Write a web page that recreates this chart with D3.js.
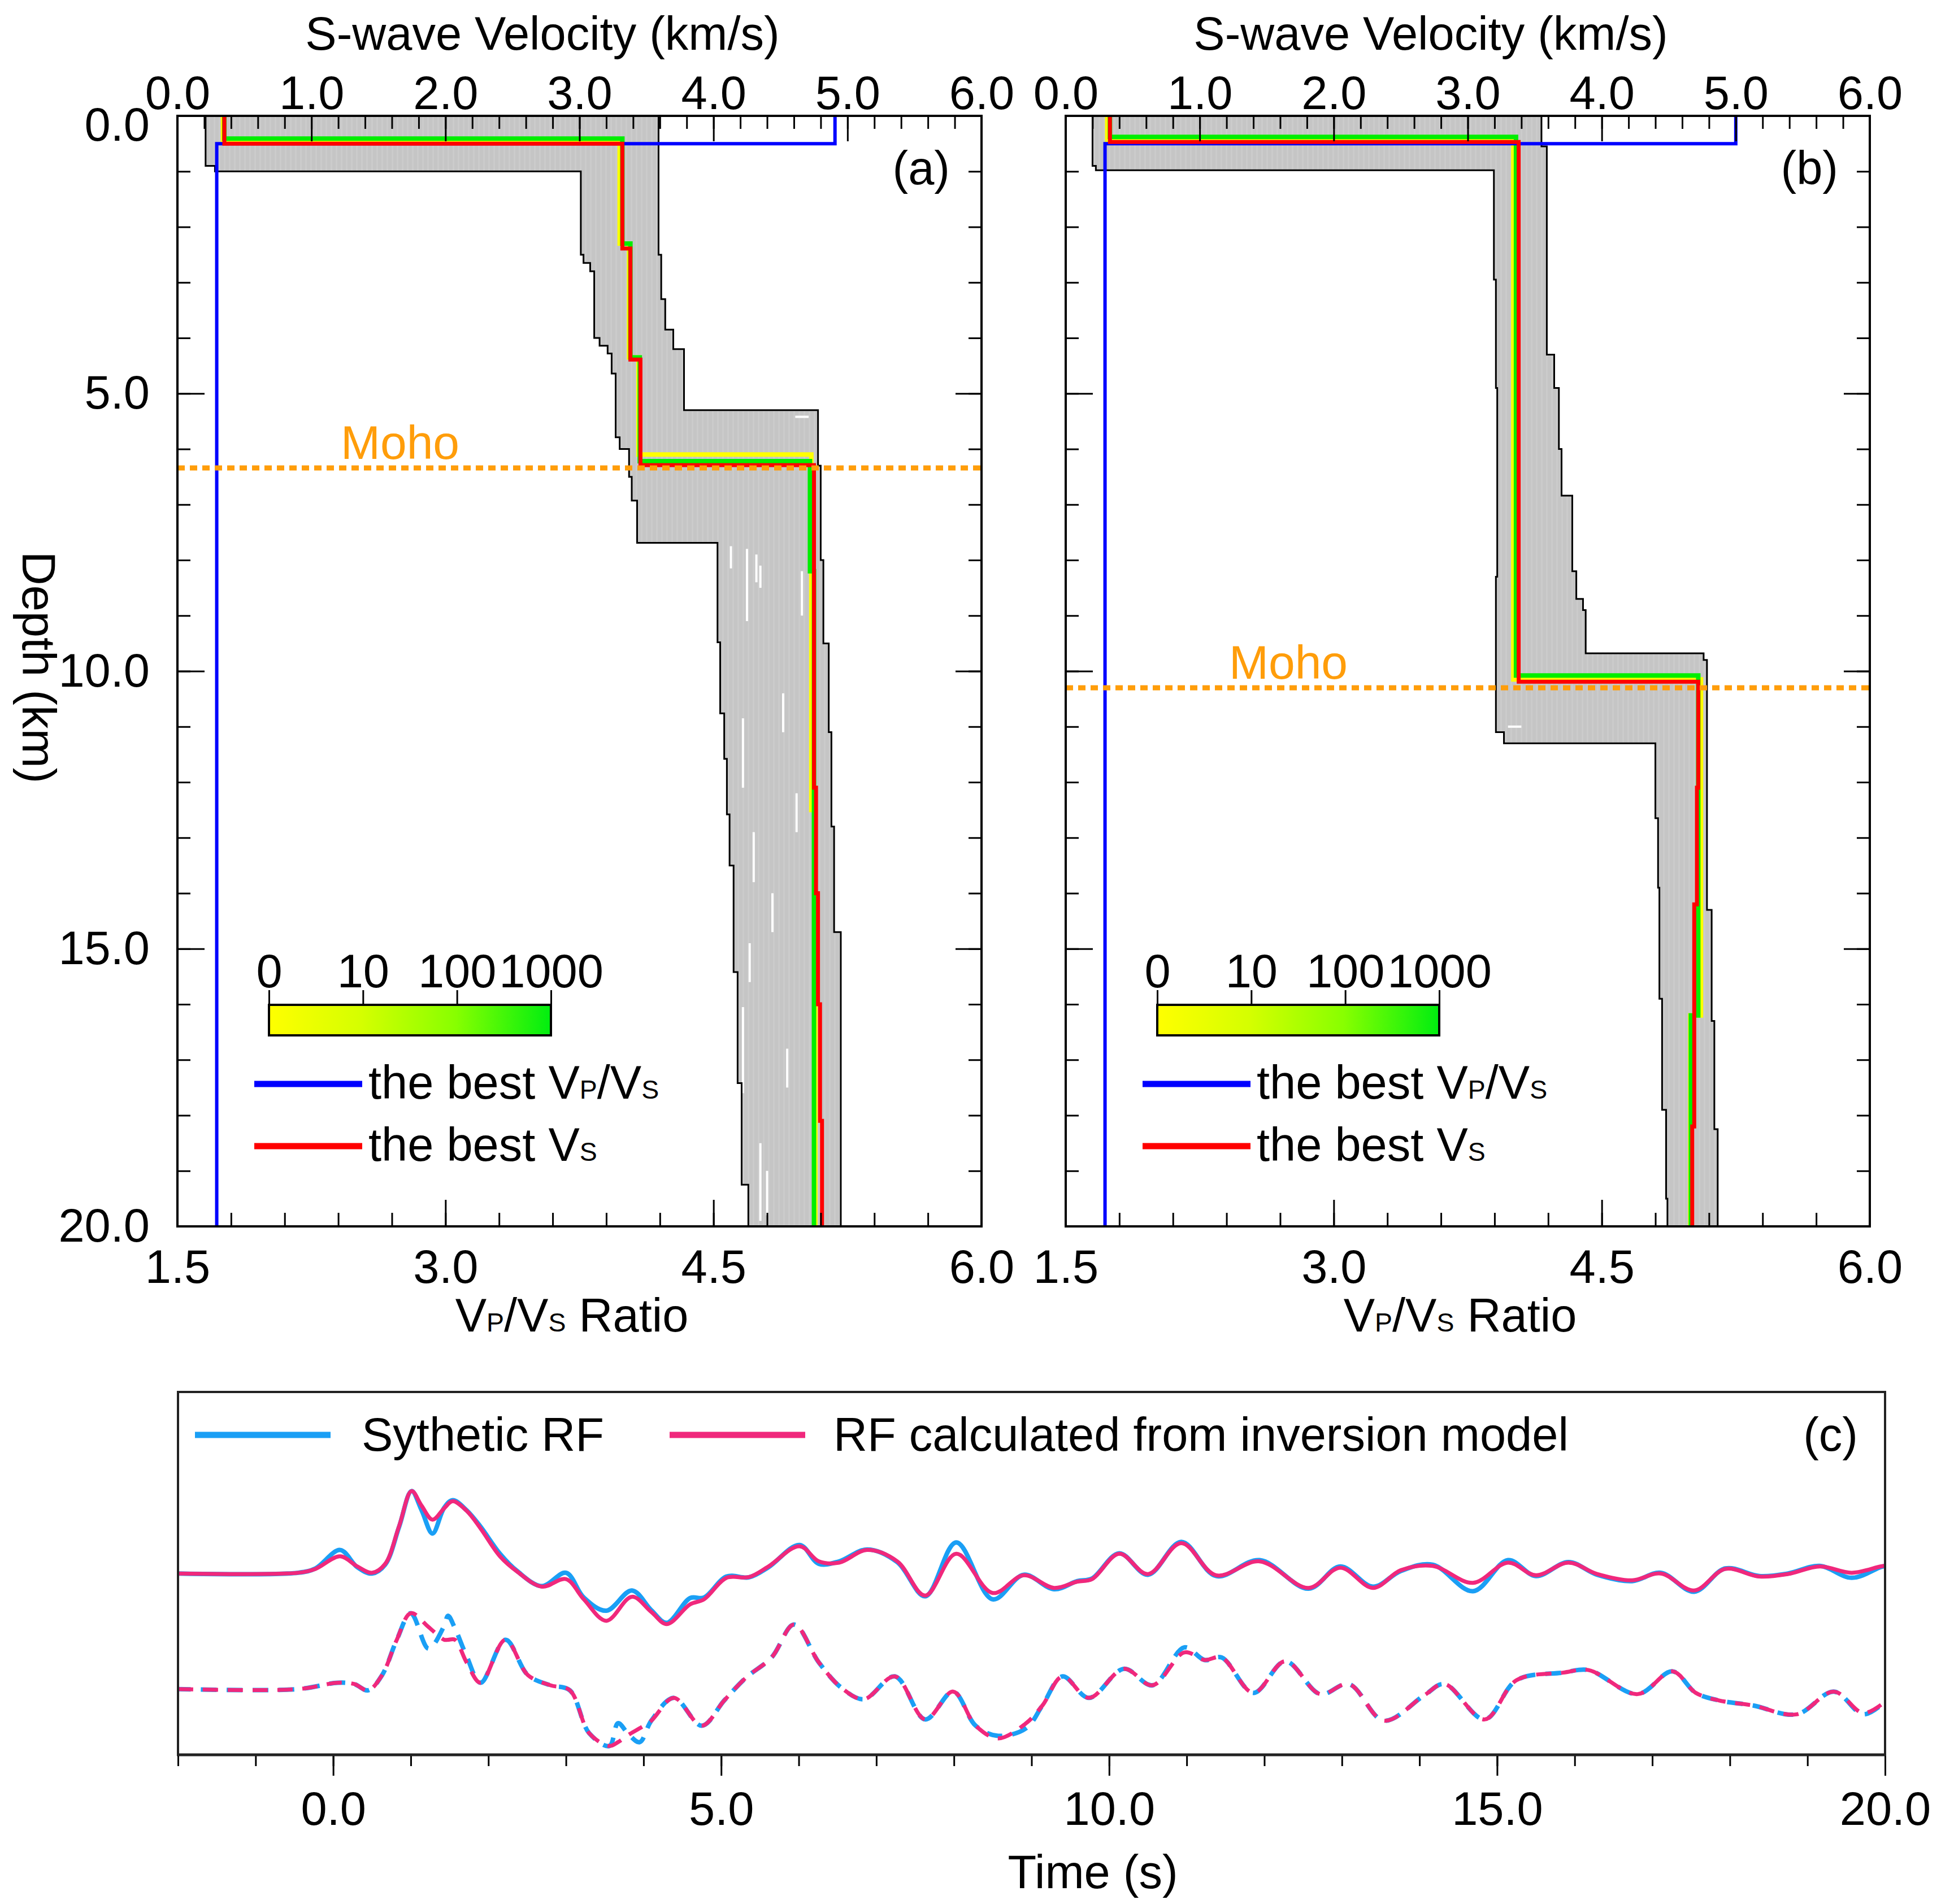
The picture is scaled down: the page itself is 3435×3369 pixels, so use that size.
<!DOCTYPE html>
<html>
<head>
<meta charset="utf-8">
<script src="https://cdn.jsdelivr.net/npm/d3@7"></script>
<style>
  body { margin: 0; background: #fff; }
</style>
</head>
<body>
<div id="chart"></div>
<script>
// DATA
// axis ticks
const velTicks = [0, 1, 2, 3, 4, 5, 6];
const ratioTicks = [1.5, 3.0, 4.5, 6.0];
const depthTicks = [0, 5, 10, 15, 20];
const timeTicks = [0, 5, 10, 15, 20];
const cbLabels = ['0', '10', '100', '1000'];

// panel (a): layer top depths (km) and values, each layer runs to the next depth (last to 20 km)
const aEnvLeftDepth = [0, 0.9, 1.0, 2.5, 2.65, 2.8, 4.0, 4.14, 4.28, 4.64, 5.79, 6.0, 6.5, 6.93, 7.69, 9.48, 10.76, 11.58, 12.58, 13.5, 15.42, 17.42, 19.25];
const aEnvLeftVs = [0.21, 0.28, 3.01, 3.03, 3.08, 3.11, 3.15, 3.21, 3.24, 3.27, 3.30, 3.37, 3.39, 3.43, 4.03, 4.05, 4.08, 4.10, 4.12, 4.15, 4.18, 4.21, 4.26];
const aEnvRightDepth = [0, 2.5, 3.3, 3.85, 4.2, 5.3, 6.3, 8.0, 9.5, 11.1, 12.8, 14.7];
const aEnvRightVs = [3.59, 3.61, 3.64, 3.70, 3.78, 4.78, 4.80, 4.82, 4.86, 4.88, 4.90, 4.95];
const aYellowDepth = [0, 0.45, 2.3, 4.35, 6.1, 12.5];
const aYellowVs = [0.34, 3.30, 3.37, 3.44, 4.73, 4.76];
const aGreenDepth = [0, 0.41, 2.3, 4.35, 6.22, 8.2];
const aGreenVs = [0.35, 3.32, 3.38, 3.45, 4.72, 4.75];
const aBestVsDepth = [0, 0.5, 2.39, 4.39, 6.29, 12.1, 14.0, 16.0, 18.1];
const aBestVs = [0.35, 3.32, 3.38, 3.455, 4.75, 4.765, 4.78, 4.795, 4.81];
const aBestRatioDepth = [0, 0.5];
const aBestRatio = [5.18, 1.72];
const aMoho = 6.34;
// white gaps in the model cloud: [vs from, vs to, depth from, depth to]
const aGaps = [
  [4.13, 4.13, 7.75, 8.15], [4.25, 4.25, 7.8, 9.1], [4.32, 4.32, 7.9, 8.4], [4.35, 4.35, 8.1, 8.5],
  [4.22, 4.22, 10.85, 12.1], [4.52, 4.52, 10.4, 11.1], [4.44, 4.44, 14.0, 14.7], [4.22, 4.22, 16.05, 17.6],
  [4.35, 4.35, 18.5, 19.9], [4.66, 4.66, 8.2, 9.0], [4.61, 4.71, 5.42, 5.42], [4.30, 4.30, 12.9, 13.8],
  [4.55, 4.55, 16.8, 17.5], [4.40, 4.40, 19.0, 19.8], [4.27, 4.27, 14.9, 15.6], [4.62, 4.62, 12.2, 12.9]
];

// panel (b)
const bEnvLeftDepth = [0, 0.9, 0.98, 2.95, 4.9, 8.3, 11.1, 11.3, 12.65, 13.9, 15.9, 17.9, 19.5];
const bEnvLeftVs = [0.20, 0.225, 3.195, 3.21, 3.22, 3.21, 3.27, 4.40, 4.42, 4.43, 4.45, 4.48, 4.49];
const bEnvRightDepth = [0, 0.55, 4.3, 4.9, 6.0, 6.84, 8.2, 8.7, 8.9, 9.68, 9.8, 14.3, 16.3, 18.25];
const bEnvRightVs = [3.55, 3.59, 3.645, 3.68, 3.70, 3.78, 3.81, 3.86, 3.88, 4.76, 4.785, 4.82, 4.84, 4.865];
const bYellowDepth = [0, 0.45, 10.15, 16.2];
const bYellowVs = [0.31, 3.34, 4.74, 4.66];
const bGreenDepth = [0, 0.38, 10.08, 16.2];
const bGreenVs = [0.33, 3.36, 4.72, 4.665];
const bBestVsDepth = [0, 0.47, 10.19, 12.1, 14.2, 18.2];
const bBestVs = [0.33, 3.38, 4.72, 4.71, 4.69, 4.675];
const bBestRatioDepth = [0, 0.5];
const bBestRatio = [5.25, 1.72];
const bMoho = 10.3;
const bGaps = [[3.30, 3.40, 11.0, 11.0]];

// panel (c): receiver functions (amplitude, arbitrary units)
const rfSolidTime = [-2.0, -0.45, -0.23, 0.09, 0.31, 0.5, 0.67, 0.85, 1.01, 1.14, 1.28, 1.43, 1.54, 1.72, 1.9, 2.15, 2.37, 2.69, 3.0, 3.23, 3.52, 3.85, 4.1, 4.3, 4.6, 4.78, 5.07, 5.36, 5.61, 6.01, 6.26, 6.52, 6.88, 7.27, 7.63, 8.03, 8.5, 8.9, 9.29, 9.59, 9.78, 10.13, 10.5, 10.93, 11.38, 11.94, 12.57, 12.98, 13.4, 13.76, 14.17, 14.69, 15.14, 15.5, 15.92, 16.29, 16.74, 17.11, 17.54, 17.94, 18.38, 18.75, 19.16, 19.57, 19.94, 20.0];
const rfSolidSyn = [0, 0.03, 0.2, 0.93, 0.25, 0.0, 0.35, 1.85, 3.26, 2.5, 1.58, 2.6, 2.9, 2.5, 1.85, 0.78, 0.1, -0.5, 0.03, -0.95, -1.47, -0.67, -1.45, -1.95, -0.97, -0.95, -0.12, -0.15, 0.25, 1.13, 0.38, 0.48, 0.95, 0.45, -0.9, 1.23, -1.02, -0.05, -0.62, -0.3, -0.2, 0.8, -0.05, 1.25, -0.1, 0.53, -0.6, 0.28, -0.52, 0.1, 0.35, -0.7, 0.53, -0.1, 0.45, -0.05, -0.3, 0.03, -0.72, 0.2, -0.1, 0.0, 0.3, -0.17, 0.25, 0.3];
const rfSolidInv = [0, 0.03, 0.18, 0.68, 0.28, 0.03, 0.38, 1.88, 3.26, 2.68, 2.13, 2.58, 2.86, 2.48, 1.78, 0.68, 0.08, -0.52, -0.22, -1.02, -1.87, -0.92, -1.52, -2.0, -1.22, -1.02, -0.17, -0.14, 0.28, 1.08, 0.48, 0.43, 0.93, 0.48, -0.87, 0.78, -0.77, -0.07, -0.57, -0.32, -0.22, 0.78, -0.02, 1.2, -0.07, 0.48, -0.57, 0.23, -0.57, 0.13, 0.3, -0.37, 0.43, -0.07, 0.43, -0.02, -0.27, 0, -0.67, 0.18, -0.12, -0.02, 0.28, 0.03, 0.28, 0.3];
const rfDashTime = [-2.0, -0.45, 0.06, 0.27, 0.45, 0.63, 0.82, 1.0, 1.23, 1.43, 1.48, 1.57, 1.72, 1.9, 2.22, 2.51, 2.8, 3.05, 3.3, 3.56, 3.67, 3.81, 3.95, 4.1, 4.39, 4.75, 5.04, 5.32, 5.65, 5.94, 6.26, 6.55, 6.84, 7.24, 7.63, 7.99, 8.28, 8.57, 8.93, 9.14, 9.4, 9.74, 10.19, 10.56, 10.97, 11.23, 11.45, 11.86, 12.27, 12.72, 13.09, 13.54, 14.06, 14.32, 14.84, 15.25, 15.85, 16.18, 16.81, 17.26, 17.56, 17.86, 18.3, 18.86, 19.34, 19.72, 20.0];
const rfDashSyn = [0, 0, 0.25, 0.2, -0.05, 0.55, 1.95, 3.0, 1.6, 2.5, 2.9, 2.4, 1.3, 0.25, 1.95, 0.55, 0.15, -0.05, -1.75, -2.25, -1.35, -1.8, -2.1, -1.25, -0.35, -1.45, -0.45, 0.45, 1.25, 2.55, 1.05, 0.05, -0.4, 0.5, -1.2, -0.1, -1.45, -1.85, -1.55, -0.65, 0.5, -0.35, 0.8, 0.15, 1.65, 1.15, 1.25, -0.15, 1.1, -0.2, 0.2, -1.25, -0.25, 0.2, -1.2, 0.35, 0.65, 0.75, -0.2, 0.7, -0.15, -0.45, -0.65, -1.0, -0.1, -1.0, -0.5];
const rfDashInv = [0, 0, 0.25, 0.2, -0.05, 0.55, 1.95, 3.0, 2.45, 1.95, 1.95, 1.95, 1.05, 0.25, 1.95, 0.55, 0.15, -0.05, -1.75, -2.25, -2.1, -1.8, -1.55, -1.25, -0.35, -1.45, -0.45, 0.45, 1.25, 2.55, 1.05, 0.05, -0.4, 0.5, -1.2, -0.1, -1.45, -1.95, -1.35, -0.65, 0.5, -0.35, 0.8, 0.15, 1.45, 1.15, 1.25, -0.15, 1.1, -0.2, 0.2, -1.25, -0.25, 0.2, -1.2, 0.35, 0.65, 0.75, -0.2, 0.7, -0.15, -0.45, -0.65, -1.0, -0.1, -0.95, -0.5];


// LAYOUT
const W = 3435, H = 3369;
const font = '"Liberation Sans", Arial, Helvetica, sans-serif';
const fs = 83;
const plotW = 1423, plotTop = 205, plotBottom = 2170;
const colors = {
  ratio: '#0000ff', vs: '#ff0000', green: '#00ee00', yellow: '#ffff00',
  moho: '#ff9d0a', syn: '#1a9ff5', inv: '#f0287c'
};

const svg = d3.select('#chart')
  .append('svg')
  .attr('width', W)
  .attr('height', H)
  .attr('viewBox', [0, 0, W, H])
  .style('font-family', font);

svg.append('rect').attr('width', W).attr('height', H).attr('fill', '#fff');

const defs = svg.append('defs');
const pat = defs.append('pattern')
  .attr('id', 'models')
  .attr('patternUnits', 'userSpaceOnUse')
  .attr('width', 9).attr('height', 40);
pat.append('rect').attr('width', 9).attr('height', 40).attr('fill', '#c5c5c5');
pat.append('rect').attr('width', 3).attr('height', 40).attr('fill', '#cbcbcb');

const grad = defs.append('linearGradient').attr('id', 'cbar');
[[0, '#ffff00'], [0.33, '#d4ff00'], [0.66, '#88ff00'], [1, '#00ee10']].forEach(([o, c]) => {
  grad.append('stop').attr('offset', o).attr('stop-color', c);
});


// FUNCTIONS
// turn layer tops + values into corner points of a step profile
const steps = (depths, vals, bottom = 20) => depths.flatMap((z, i) => [
  { v: vals[i], z },
  { v: vals[i], z: i < depths.length - 1 ? depths[i + 1] : bottom }
]);

const styleAxis = (g, labelSize = fs) => {
  g.select('.domain').remove();
  g.selectAll('line').attr('stroke', '#000').attr('stroke-width', 3);
  g.selectAll('text')
    .attr('font-size', labelSize)
    .attr('font-family', font)
    .attr('fill', '#000');
};

// text with the small-capital P / S subscripts
const vpvsText = (sel, prefix, sub1, rest, sub2, suffix) => {
  if (prefix) sel.append('tspan').text(prefix);
  sel.append('tspan').text('V');
  sel.append('tspan').attr('font-size', fs * 0.56).text(sub1);
  if (rest) {
    sel.append('tspan').text(rest);
    sel.append('tspan').attr('font-size', fs * 0.56).text(sub2);
  }
  if (suffix) sel.append('tspan').text(suffix);
};

const drawProfilePanel = p => {
  const right = p.left + plotW;
  const x = d3.scaleLinear().domain([0, 6]).range([p.left, right]);
  const xr = d3.scaleLinear().domain([1.5, 6]).range([p.left, right]);
  const y = d3.scaleLinear().domain([0, 20]).range([plotTop, plotBottom]);
  const line = d3.line().x(d => x(d.v)).y(d => y(d.z));
  const lineR = d3.line().x(d => xr(d.v)).y(d => y(d.z));
  const g = svg.append('g');

  // grey cloud of accepted models
  const leftPts = steps(p.envLD, p.envLV);
  const rightPts = steps(p.envRD, p.envRV);
  g.append('path')
    .datum(leftPts.concat(rightPts.slice().reverse()))
    .attr('d', d => line(d) + 'Z')
    .attr('fill', 'url(#models)');

  g.append('g')
    .selectAll('line')
    .data(p.gaps)
    .join('line')
    .attr('x1', d => x(d[0])).attr('x2', d => x(d[1]))
    .attr('y1', d => y(d[2])).attr('y2', d => y(d[3]))
    .attr('stroke', '#fff')
    .attr('stroke-width', 4);

  [leftPts, rightPts].forEach(pts => {
    g.append('path')
      .datum(pts)
      .attr('d', line)
      .attr('fill', 'none')
      .attr('stroke', '#000')
      .attr('stroke-width', 3);
  });

  // frequency-coloured best lines
  [[p.yelD, p.yelV, colors.yellow], [p.grnD, p.grnV, colors.green]].forEach(([dd, vv, c]) => {
    g.append('path')
      .datum(steps(dd, vv))
      .attr('d', line)
      .attr('fill', 'none')
      .attr('stroke', c)
      .attr('stroke-width', 8);
  });

  // best Vp/Vs (bottom axis)
  g.append('path')
    .datum(steps(p.ratioD, p.ratioV))
    .attr('d', lineR)
    .attr('fill', 'none')
    .attr('stroke', colors.ratio)
    .attr('stroke-width', 6);

  // best Vs (top axis)
  g.append('path')
    .datum(steps(p.vsD, p.vsV))
    .attr('d', line)
    .attr('fill', 'none')
    .attr('stroke', colors.vs)
    .attr('stroke-width', 7);

  // Moho
  g.append('line')
    .attr('x1', p.left).attr('x2', right)
    .attr('y1', y(p.moho)).attr('y2', y(p.moho))
    .attr('stroke', colors.moho)
    .attr('stroke-width', 9)
    .attr('stroke-dasharray', '13,9');
  g.append('text')
    .attr('x', p.left + 394)
    .attr('y', y(p.moho) - 16)
    .attr('text-anchor', 'middle')
    .attr('font-size', 84)
    .attr('fill', colors.moho)
    .text('Moho');

  // frame
  g.append('rect')
    .attr('x', p.left).attr('y', plotTop)
    .attr('width', plotW).attr('height', plotBottom - plotTop)
    .attr('fill', 'none')
    .attr('stroke', '#000')
    .attr('stroke-width', 4);

  // top velocity axis
  g.append('g')
    .attr('transform', `translate(0,${plotTop})`)
    .call(d3.axisTop(x).tickValues(d3.range(0, 31).map(i => i * 0.2)).tickSize(-23).tickFormat(''))
    .call(styleAxis);
  g.append('g')
    .attr('transform', `translate(0,${plotTop})`)
    .call(d3.axisTop(x).tickValues(velTicks).tickSize(-45).tickPadding(12).tickFormat(d3.format('.1f')))
    .call(styleAxis);

  // bottom ratio axis
  g.append('g')
    .attr('transform', `translate(0,${plotBottom})`)
    .call(d3.axisBottom(xr).tickValues(d3.range(0, 16).map(i => 1.5 + i * 0.3)).tickSize(-24).tickFormat(''))
    .call(styleAxis);
  g.append('g')
    .attr('transform', `translate(0,${plotBottom})`)
    .call(d3.axisBottom(xr).tickValues(ratioTicks).tickSize(-47).tickPadding(41).tickFormat(d3.format('.1f')))
    .call(styleAxis);

  // depth axes, left and right
  g.append('g')
    .attr('transform', `translate(${p.left},0)`)
    .call(d3.axisLeft(y).tickValues(d3.range(0, 21)).tickSize(-23).tickFormat(''))
    .call(styleAxis);
  g.append('g')
    .attr('transform', `translate(${p.left},0)`)
    .call(d3.axisLeft(y).tickValues(depthTicks).tickSize(-48).tickPadding(49)
      .tickFormat(p.depthLabels ? d3.format('.1f') : ''))
    .call(styleAxis)
    .call(a => a.selectAll('text').filter(d => d === 0).attr('dy', '0.52em'));
  g.append('g')
    .attr('transform', `translate(${right},0)`)
    .call(d3.axisRight(y).tickValues(d3.range(0, 21)).tickSize(-23).tickFormat(''))
    .call(styleAxis);
  g.append('g')
    .attr('transform', `translate(${right},0)`)
    .call(d3.axisRight(y).tickValues(depthTicks).tickSize(-46).tickFormat(''))
    .call(styleAxis);

  // axis titles
  g.append('text')
    .attr('x', p.left + 646).attr('y', 88)
    .attr('text-anchor', 'middle')
    .attr('font-size', fs)
    .text('S-wave Velocity (km/s)');
  g.append('text')
    .attr('x', p.left + 698).attr('y', 2356)
    .attr('text-anchor', 'middle')
    .attr('font-size', fs)
    .call(vpvsText, '', 'P', '/V', 'S', ' Ratio');
  g.append('text')
    .attr('x', right - 56).attr('y', 326)
    .attr('text-anchor', 'end')
    .attr('font-size', fs)
    .text(`(${p.key})`);

  // colour bar
  const cb = d3.scalePoint().domain(cbLabels).range([p.left + 162, p.left + 661]);
  g.append('rect')
    .attr('x', p.left + 162).attr('y', 1778)
    .attr('width', 499).attr('height', 54)
    .attr('fill', 'url(#cbar)')
    .attr('stroke', '#000')
    .attr('stroke-width', 4);
  g.append('g')
    .attr('transform', 'translate(0,1778)')
    .call(d3.axisTop(cb).tickSize(26).tickPadding(5))
    .call(styleAxis);

  // line legend
  const legend = [
    { c: colors.ratio, y: 1918, parts: ['the best ', 'P', '/V', 'S'] },
    { c: colors.vs, y: 2028, parts: ['the best ', 'S', '', ''] }
  ];
  legend.forEach(l => {
    g.append('line')
      .attr('x1', p.left + 136).attr('x2', p.left + 327)
      .attr('y1', l.y).attr('y2', l.y)
      .attr('stroke', l.c)
      .attr('stroke-width', 11);
    g.append('text')
      .attr('x', p.left + 338).attr('y', l.y + 26)
      .attr('font-size', fs)
      .call(vpvsText, l.parts[0], l.parts[1], l.parts[2], l.parts[3], '');
  });

  if (p.depthLabels) {
    svg.append('text')
      .attr('transform', `translate(40,1181) rotate(90)`)
      .attr('text-anchor', 'middle')
      .attr('font-size', fs)
      .text('Depth (km)');
  }
};

const panels = [
  { key: 'a', left: 314, depthLabels: true, moho: aMoho, gaps: aGaps,
    envLD: aEnvLeftDepth, envLV: aEnvLeftVs, envRD: aEnvRightDepth, envRV: aEnvRightVs,
    yelD: aYellowDepth, yelV: aYellowVs, grnD: aGreenDepth, grnV: aGreenVs,
    vsD: aBestVsDepth, vsV: aBestVs, ratioD: aBestRatioDepth, ratioV: aBestRatio },
  { key: 'b', left: 1886, depthLabels: false, moho: bMoho, gaps: bGaps,
    envLD: bEnvLeftDepth, envLV: bEnvLeftVs, envRD: bEnvRightDepth, envRV: bEnvRightVs,
    yelD: bYellowDepth, yelV: bYellowVs, grnD: bGreenDepth, grnV: bGreenVs,
    vsD: bBestVsDepth, vsV: bBestVs, ratioD: bBestRatioDepth, ratioV: bBestRatio }
];
panels.forEach(drawProfilePanel);


// PANEL (c)
const drawRF = () => {
  const left = 315, right = 3336, top = 2463, bottom = 3105;
  const solidOffset = 4.57;
  const xT = d3.scaleLinear().domain([-2, 20]).range([left, right]);
  const yA = d3.scaleLinear().domain([-2.6, 11.75]).range([bottom, top]);
  const g = svg.append('g');

  const rfLine = off => d3.line()
    .x(d => xT(d.t))
    .y(d => yA(d.a + off))
    .curve(d3.curveCatmullRom.alpha(0.5));

  const solidSyn = rfSolidTime.map((t, i) => ({ t, a: rfSolidSyn[i] }));
  const solidInv = rfSolidTime.map((t, i) => ({ t, a: rfSolidInv[i] }));
  const dashSyn = rfDashTime.map((t, i) => ({ t, a: rfDashSyn[i] }));
  const dashInv = rfDashTime.map((t, i) => ({ t, a: rfDashInv[i] }));

  // dashed pair: same normalised length so the dashes stay in step along the trace
  const synPath = g.append('path')
    .datum(dashSyn)
    .attr('d', rfLine(0))
    .attr('fill', 'none')
    .attr('stroke', colors.syn)
    .attr('stroke-width', 8);
  const invPath = g.append('path')
    .datum(dashInv)
    .attr('d', rfLine(0))
    .attr('fill', 'none')
    .attr('stroke', colors.inv)
    .attr('stroke-width', 7);
  const len = invPath.node().getTotalLength();
  synPath.attr('pathLength', len).attr('stroke-dasharray', '27,17').attr('stroke-dashoffset', 5);
  invPath.attr('pathLength', len).attr('stroke-dasharray', '27,17').attr('stroke-dashoffset', 0);

  [[solidSyn, colors.syn, 8], [solidInv, colors.inv, 7]].forEach(([d, c, w]) => {
    g.append('path')
      .datum(d)
      .attr('d', rfLine(solidOffset))
      .attr('fill', 'none')
      .attr('stroke', c)
      .attr('stroke-width', w);
  });

  // frame (top, left, right)
  g.append('path')
    .attr('d', `M${left},${bottom}V${top}H${right}V${bottom}`)
    .attr('fill', 'none')
    .attr('stroke', '#222')
    .attr('stroke-width', 4);

  g.append('g')
    .attr('transform', `translate(0,${bottom})`)
    .call(d3.axisBottom(xT).tickValues(d3.range(-2, 21)).tickSize(20).tickFormat(''))
    .call(styleAxis);
  g.append('g')
    .attr('transform', `translate(0,${bottom})`)
    .call(d3.axisBottom(xT).tickValues(timeTicks).tickSize(37).tickPadding(28).tickFormat(d3.format('.1f')))
    .call(styleAxis);
  g.append('line')
    .attr('x1', left - 2).attr('x2', right + 2)
    .attr('y1', bottom).attr('y2', bottom)
    .attr('stroke', '#222')
    .attr('stroke-width', 5);

  g.append('text')
    .attr('x', 1934).attr('y', 3341)
    .attr('text-anchor', 'middle')
    .attr('font-size', fs)
    .text('Time (s)');

  // legend
  [
    { c: colors.syn, x: 345, label: 'Sythetic RF', tx: 640 },
    { c: colors.inv, x: 1185, label: 'RF calculated from inversion model', tx: 1475 }
  ].forEach(l => {
    g.append('line')
      .attr('x1', l.x).attr('x2', l.x + 240)
      .attr('y1', 2539).attr('y2', 2539)
      .attr('stroke', l.c)
      .attr('stroke-width', 11);
    g.append('text')
      .attr('x', l.tx).attr('y', 2567)
      .attr('font-size', fs)
      .text(l.label);
  });
  g.append('text')
    .attr('x', 3288).attr('y', 2567)
    .attr('text-anchor', 'end')
    .attr('font-size', fs)
    .text('(c)');
};
drawRF();
</script>
</body>
</html>
